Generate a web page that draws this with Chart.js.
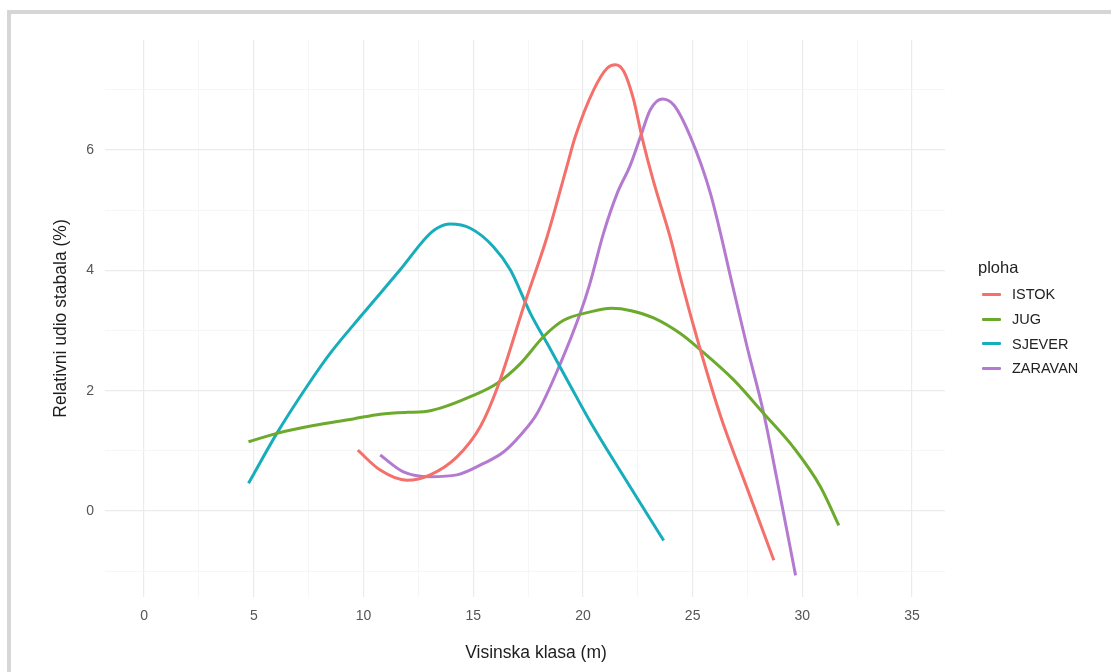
<!DOCTYPE html>
<html>
<head>
<meta charset="utf-8">
<script src="https://cdn.jsdelivr.net/npm/chart.js@4/dist/chart.umd.min.js"></script>
<style>
  html, body { margin: 0; padding: 0; background: #fff; }
  #wrap { position: relative; width: 1111px; height: 672px; overflow: hidden; }
  #frame { position: absolute; left: 7px; top: 10px; right: -10px; bottom: -10px;
           border-top: 4px solid #d6d6d6; border-left: 4px solid #d6d6d6; pointer-events: none; }
  #legend { position: absolute; left: 978px; top: 255px; font-family: "Liberation Sans", Arial, sans-serif; color: #222; }
  #legend .ttl { font-size: 16.5px; height: 27px; line-height: 24px; }
  #legend .item { height: 24.7px; display: flex; align-items: center; font-size: 14.5px; }
  #legend .key { width: 19px; height: 3px; margin: 0 11px 0 4px; border-radius: 1px; }
</style>
</head>
<body>
<div id="wrap">
  <canvas id="chart" width="1111" height="672"></canvas>
  <div id="frame"></div>
  <div id="legend"></div>
</div>
<script>
// ── Datos ───────────────────────────────────────────────────────────────
const seriesNames = ['ISTOK', 'JUG', 'SJEVER', 'ZARAVAN']
const seriesColors = ['#f4706a', '#6caa2e', '#17adbb', '#b47ad0']

const istokX = [9.74, 10.76, 11.98, 13.04, 14.26, 15.32, 16.15, 17.3, 18.36, 19.27, 19.65, 20.49, 21.1, 21.48, 21.86, 22.3, 22.7, 23.2, 24.0, 24.5, 25.35, 26.27, 27.48, 28.7]
const istokY = [1.01, 0.68, 0.51, 0.60, 0.90, 1.40, 2.10, 3.40, 4.55, 5.73, 6.22, 7.00, 7.36, 7.42, 7.31, 6.85, 6.20, 5.50, 4.52, 3.80, 2.68, 1.58, 0.38, -0.82]

const jugX = [4.76, 6.05, 7.72, 9.53, 10.76, 12.0, 12.74, 13.5, 14.87, 16.08, 17.15, 18.21, 19.12, 20.34, 21.3, 22.2, 23.22, 24.44, 25.35, 26.87, 28.24, 29.61, 30.83, 31.66]
const jugY = [1.15, 1.29, 1.42, 1.53, 1.61, 1.64, 1.65, 1.71, 1.90, 2.12, 2.45, 2.90, 3.17, 3.31, 3.37, 3.33, 3.21, 2.95, 2.68, 2.18, 1.62, 1.05, 0.40, -0.24]

const sjeverX = [4.76, 6.05, 7.42, 8.48, 10.0, 11.67, 12.89, 13.35, 13.95, 14.87, 15.93, 16.69, 17.6, 18.5, 19.4, 20.34, 21.71, 23.68]
const sjeverY = [0.46, 1.29, 2.07, 2.62, 3.29, 4.01, 4.56, 4.70, 4.77, 4.70, 4.39, 4.01, 3.29, 2.70, 2.10, 1.48, 0.66, -0.49]

const zaravanX = [10.76, 11.82, 13.04, 14.26, 15.47, 16.38, 17.2, 17.91, 18.97, 19.88, 20.3, 20.94, 21.56, 22.16, 22.62, 23.07, 23.61, 24.14, 24.9, 25.81, 26.87, 27.48, 28.24, 28.85, 29.69]
const zaravanY = [0.93, 0.65, 0.57, 0.60, 0.79, 0.98, 1.28, 1.62, 2.45, 3.29, 3.76, 4.62, 5.28, 5.75, 6.22, 6.67, 6.85, 6.75, 6.22, 5.28, 3.67, 2.73, 1.62, 0.51, -1.07]

const xTicks = [0, 2.5, 5, 7.5, 10, 12.5, 15, 17.5, 20, 22.5, 25, 27.5, 30, 32.5, 35]
const yTicks = [-1, 0, 1, 2, 3, 4, 5, 6, 7]
const xLabelEvery = 5
const yLabelEvery = 2

const xTitle = 'Visinska klasa (m)'
const yTitle = 'Relativni udio stabala (%)'
const legendTitle = 'ploha'

// ── Helpers ─────────────────────────────────────────────────────────────

const FONT = '"Liberation Sans", Arial, sans-serif'
const toPoints = (xs, ys) => xs.map((x, i) => ({ x, y: ys[i] }))
const isMajor = (v, step) => Math.abs(v / step - Math.round(v / step)) < 1e-6

const allSeries = [
  toPoints(istokX, istokY),
  toPoints(jugX, jugY),
  toPoints(sjeverX, sjeverY),
  toPoints(zaravanX, zaravanY)
]

const datasets = seriesNames.map((name, i) => ({
  label: name,
  data: allSeries[i],
  borderColor: seriesColors[i],
  backgroundColor: seriesColors[i],
  borderWidth: 3,
  pointRadius: 0,
  cubicInterpolationMode: 'monotone',
  fill: false
}))

// título del eje X, un poco corrido a la derecha como en el original
const xTitlePlugin = {
  id: 'xTitle',
  afterDraw (chart) {
    const { ctx, chartArea } = chart
    ctx.save()
    ctx.fillStyle = '#1e1e1e'
    ctx.font = `17.5px ${FONT}`
    ctx.textAlign = 'center'
    ctx.textBaseline = 'middle'
    ctx.fillText(xTitle, (chartArea.left + chartArea.right) / 2 + 11, 653)
    ctx.restore()
  }
}

// ── Gráfico ─────────────────────────────────────────────────────────────

new Chart(document.getElementById('chart'), {
  type: 'line',
  data: { datasets },
  plugins: [xTitlePlugin],
  options: {
    responsive: false,
    animation: false,
    devicePixelRatio: 1,
    layout: { padding: { left: 0, top: 40, right: 166, bottom: 0 } },
    plugins: { legend: { display: false }, tooltip: { enabled: false } },
    scales: {
      x: {
        type: 'linear',
        min: -1.78,
        max: 36.5,
        afterBuildTicks: s => { s.ticks = xTicks.map(value => ({ value })) },
        afterFit: s => { s.height = 75 },
        border: { display: false },
        grid: {
          drawTicks: false,
          color: c => isMajor(c.tick.value, xLabelEvery) ? '#ebebeb' : '#f4f4f4',
          lineWidth: c => isMajor(c.tick.value, xLabelEvery) ? 1.2 : 0.8
        },
        ticks: {
          padding: 11,
          color: '#555',
          font: { family: FONT, size: 14 },
          maxRotation: 0,
          autoSkip: false,
          callback: v => isMajor(v, xLabelEvery) ? String(v) : ''
        }
      },
      y: {
        type: 'linear',
        min: -1.43,
        max: 7.83,
        afterBuildTicks: s => { s.ticks = yTicks.map(value => ({ value })) },
        afterFit: s => { s.width = 105 },
        border: { display: false },
        grid: {
          drawTicks: false,
          color: c => isMajor(c.tick.value, yLabelEvery) ? '#ebebeb' : '#f4f4f4',
          lineWidth: c => isMajor(c.tick.value, yLabelEvery) ? 1.2 : 0.8
        },
        ticks: {
          padding: 11,
          color: '#555',
          font: { family: FONT, size: 14 },
          autoSkip: false,
          callback: v => isMajor(v, yLabelEvery) ? String(v) : ''
        },
        title: {
          display: true,
          text: yTitle,
          color: '#1e1e1e',
          font: { family: FONT, size: 17.5 },
          padding: { top: 51, bottom: 0 }
        }
      }
    }
  }
})

// ── Leyenda ─────────────────────────────────────────────────────────────

const legendEl = document.getElementById('legend')
legendEl.innerHTML = `<div class="ttl">${legendTitle}</div>` + seriesNames.map((name, i) => `
  <div class="item"><span class="key" style="background:${seriesColors[i]}"></span>${name}</div>
`).join('')
</script>
</body>
</html>
